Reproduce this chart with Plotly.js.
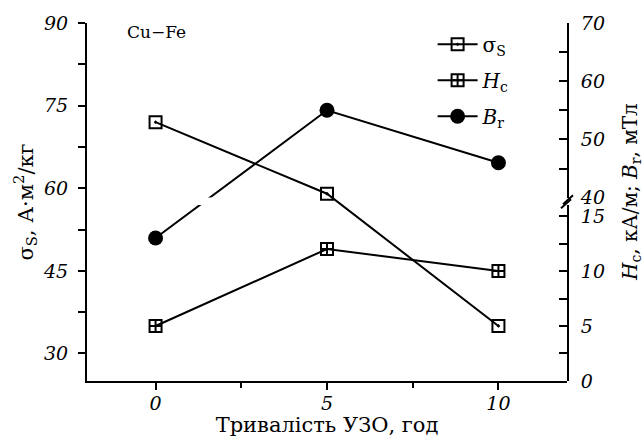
<!DOCTYPE html>
<html>
<head>
<meta charset="utf-8">
<script src="https://cdn.plot.ly/plotly-3.0.1.min.js"></script>
<style>html,body{margin:0;padding:0;background:#fff;}#chart{width:643px;height:437px;}</style>
</head>
<body>
<div id="chart"></div>
<script>
// ---- data ----
const durations = [0, 5, 10];          // УЗО duration, h
const sigmaS = [72, 59, 35];           // А·м²/кг (left axis)
const Hc = [5, 12, 10];                // кА/м (right axis, lower part)
const Br = [13, 55, 46];               // мТл (right axis, broken)
const leftTicks = [30, 45, 60, 75, 90];
const xTicks = [0, 5, 10];

// ---- broken right axis definition ----
const lowRange = [0, 16];
const highRange = [40, 70];
const lowDomain = [0, 0.4916];
const highDomain = [0.5123, 1];

function toPaper(v) {
  if (v <= lowRange[1]) return lowDomain[0] + (v - lowRange[0]) / (lowRange[1] - lowRange[0]) * (lowDomain[1] - lowDomain[0]);
  return highDomain[0] + (v - highRange[0]) / (highRange[1] - highRange[0]) * (highDomain[1] - highDomain[0]);
}
function paperToLow(p) { return lowRange[0] + (p - lowDomain[0]) / (lowDomain[1] - lowDomain[0]) * (lowRange[1] - lowRange[0]); }
function paperToHigh(p) { return highRange[0] + (p - highDomain[0]) / (highDomain[1] - highDomain[0]) * (highRange[1] - highRange[0]); }

const brLowVals = Br.map(v => paperToLow(toPaper(v)));
const brHighVals = Br.map(v => paperToHigh(toPaper(v)));

const serif = "DejaVu Serif";
const black = "#000";

const traces = [
  {
    x: durations, y: sigmaS, xaxis: 'x', yaxis: 'y', mode: 'lines+markers', name: 'σ<sub>S</sub>',
    legendgroup: 'a', line: {color: black, width: 2},
    marker: {symbol: 'square-open-dot', size: 12, color: black, line: {color: black, width: 2}}
  },
  {
    x: durations, y: Hc, xaxis: 'x', yaxis: 'y2', mode: 'lines+markers', name: '<i>H</i><sub>c</sub>',
    legendgroup: 'b', line: {color: black, width: 2},
    marker: {symbol: 'square-cross-open', size: 12, color: black, line: {color: black, width: 2}}
  },
  {
    x: durations, y: brHighVals, xaxis: 'x', yaxis: 'y3', mode: 'lines+markers', name: '<i>B</i><sub>r</sub>',
    legendgroup: 'c', line: {color: black, width: 2},
    marker: {symbol: 'circle', size: 15, color: black}
  },
  {
    x: durations, y: brLowVals, xaxis: 'x', yaxis: 'y2', mode: 'lines+markers', showlegend: false,
    legendgroup: 'c', line: {color: black, width: 2},
    marker: {symbol: 'circle', size: 15, color: black}
  }
];

const tickFont = {family: serif, size: 19, color: black, style: 'italic'};
const common = {showgrid: false, zeroline: false, showline: true, linecolor: black, linewidth: 2,
  tickcolor: black, tickwidth: 2, tickfont: tickFont};

const layout = {
  width: 643, height: 437,
  margin: {l: 87, r: 76, t: 23, b: 56},
  paper_bgcolor: '#fff', plot_bgcolor: 'rgba(0,0,0,0)',
  font: {family: serif, color: black},
  showlegend: true,
  legend: {x: 0.72, y: 0.995, xanchor: 'left', yanchor: 'top', bgcolor: 'rgba(0,0,0,0)',
    font: {family: serif, size: 20, color: black}, traceorder: 'grouped', tracegroupgap: 7, itemwidth: 40},
  xaxis: Object.assign({}, common, {
    range: [-2, 12], tickvals: xTicks, ticks: 'outside', ticklen: 7, anchor: 'y',
    minor: {dtick: 2.5, tick0: 0, ticks: 'outside', ticklen: 5, tickcolor: black, tickwidth: 2},
    ticklabelstandoff: -3,
    title: {text: 'Тривалість УЗО, год', font: {family: serif, size: 21, color: black}, standoff: 4}
  }),
  yaxis: Object.assign({}, common, {
    range: [25, 90], tickvals: leftTicks, ticks: 'outside', ticklen: 7, domain: [0, 1], anchor: 'x',
    minor: {dtick: 7.5, tick0: 0, ticks: 'outside', ticklen: 7, tickcolor: black, tickwidth: 2},
    ticklabelstandoff: 6,
    title: {text: 'σ<sub>S</sub>, А·м<sup>2</sup>/кг', font: {family: serif, size: 21, color: black}, standoff: 4}
  }),
  yaxis2: Object.assign({}, common, {
    range: lowRange, domain: lowDomain, anchor: 'x', side: 'right', dtick: 5, tick0: 0,
    ticks: 'inside', ticklen: 8,
    minor: {dtick: 2.5, tick0: 0, ticks: 'inside', ticklen: 8, tickcolor: black, tickwidth: 2},
    ticklabelstandoff: 8
  }),
  yaxis3: Object.assign({}, common, {
    range: highRange, domain: highDomain, anchor: 'x', side: 'right', dtick: 10, tick0: 0,
    ticks: 'inside', ticklen: 8,
    minor: {dtick: 5, tick0: 0, ticks: 'inside', ticklen: 8, tickcolor: black, tickwidth: 2},
    ticklabelstandoff: 8
  }),
  annotations: [
    {text: 'Cu−Fe', xref: 'paper', yref: 'paper', x: 0.079, y: 0.975, xanchor: 'left', yanchor: 'middle',
      showarrow: false, font: {family: serif, size: 17, color: black}},
    {text: '<i>H</i><sub>c</sub>, кА/м; <i>B</i><sub>r</sub>, мТл', xref: 'paper', yref: 'paper',
      x: 1, xshift: 64, y: 0.528, textangle: -90, showarrow: false, xanchor: 'center', yanchor: 'middle',
      font: {family: serif, size: 20, color: black}}
  ],
  shapes: [
    {type: 'line', xref: 'paper', yref: 'paper', xsizemode: 'pixel', ysizemode: 'pixel',
      xanchor: 1, yanchor: (lowDomain[1] + highDomain[0]) / 2, x0: -6, x1: 4, y0: -7, y1: 2,
      line: {color: black, width: 2}},
    {type: 'line', xref: 'paper', yref: 'paper', xsizemode: 'pixel', ysizemode: 'pixel',
      xanchor: 1, yanchor: (lowDomain[1] + highDomain[0]) / 2, x0: -4, x1: 6, y0: -3, y1: 6,
      line: {color: black, width: 2}}
  ]
};

Plotly.newPlot('chart', traces, layout, {displayModeBar: false, staticPlot: true});
</script>
</body>
</html>
